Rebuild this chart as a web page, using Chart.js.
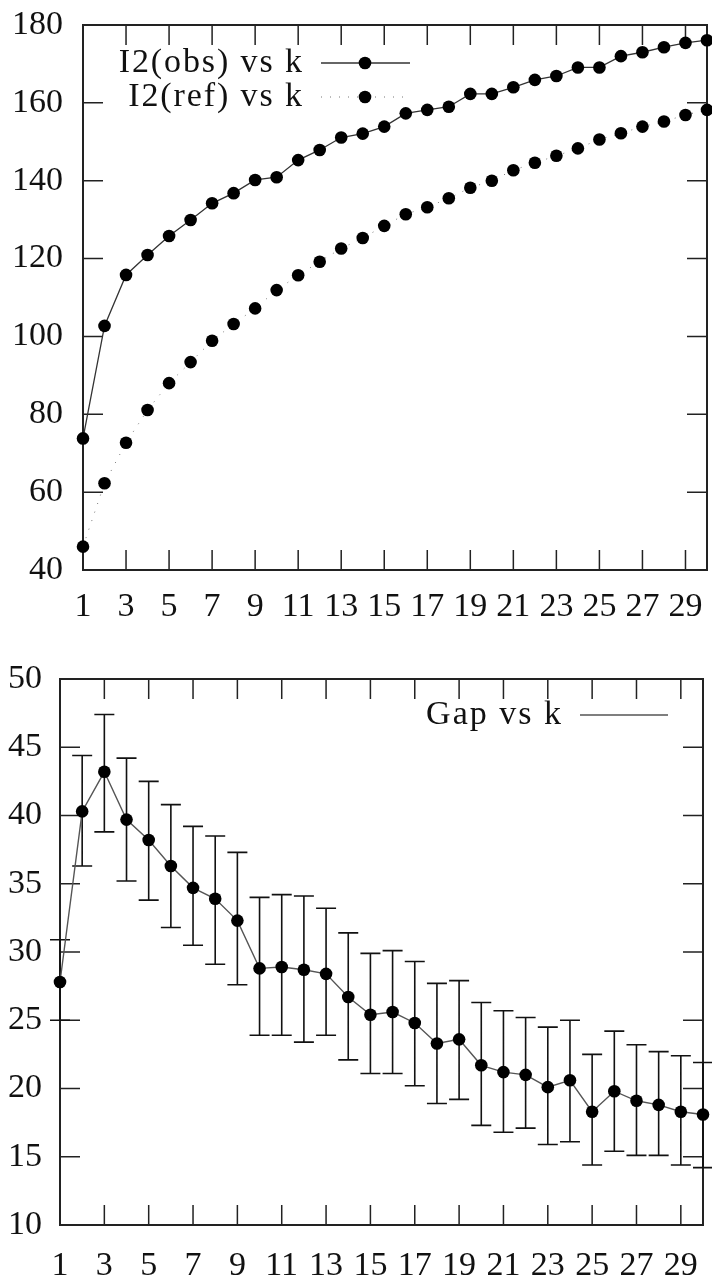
<!DOCTYPE html>
<html>
<head>
<meta charset="utf-8">
<script src="https://cdn.jsdelivr.net/npm/chart.js@4.4.1/dist/chart.umd.min.js"></script>
<style>
html, body { margin: 0; padding: 0; background: #fff; }
#wrap { position: relative; width: 712px; height: 1277px; }
#caja-i2 { position: absolute; left: 0; top: 0; width: 712px; height: 620px; }
#caja-gap { position: absolute; left: 0; top: 640px; width: 712px; height: 637px; }
</style>
</head>
<body>
<div id="wrap">
  <div id="caja-i2"><canvas id="grafica-i2"></canvas></div>
  <div id="caja-gap"><canvas id="grafica-gap"></canvas></div>
</div>
<script>
// datos
const k = [1, 2, 3, 4, 5, 6, 7, 8, 9, 10, 11, 12, 13, 14, 15, 16, 17, 18, 19, 20, 21, 22, 23, 24, 25, 26, 27, 28, 29, 30];
const i2Obs = [73.8, 102.7, 115.8, 120.9, 125.8, 129.9, 134.2, 136.8, 140.2, 140.9, 145.3, 147.9, 151.1, 152.1, 153.9,
               157.3, 158.2, 159.0, 162.3, 162.3, 164.0, 165.9, 166.9, 169.1, 169.1, 172.0, 173.0, 174.3, 175.4, 176.1];
const i2Ref = [46.0, 62.3, 72.7, 81.1, 88.0, 93.4, 98.9, 103.2, 107.2, 111.9, 115.7, 119.2, 122.6, 125.3, 128.4,
               131.4, 133.2, 135.5, 138.2, 140.0, 142.7, 144.6, 146.4, 148.3, 150.6, 152.2, 153.9, 155.2, 156.9, 158.2];
const gap = [27.8, 40.3, 43.2, 39.7, 38.2, 36.3, 34.7, 33.9, 32.3, 28.8, 28.9, 28.7, 28.4, 26.7, 25.4,
             25.6, 24.8, 23.3, 23.6, 21.7, 21.2, 21.0, 20.1, 20.6, 18.3, 19.8, 19.1, 18.8, 18.3, 18.1];
const gapAlto = [30.9, 44.4, 47.4, 44.2, 42.5, 40.8, 39.2, 38.5, 37.3, 34.0, 34.2, 34.1, 33.2, 31.4, 29.9,
                 30.1, 29.3, 27.7, 27.9, 26.3, 25.7, 25.2, 24.5, 25.0, 22.5, 24.2, 23.2, 22.7, 22.4, 21.9];
const gapBajo = [25.0, 36.3, 38.8, 35.2, 33.8, 31.8, 30.5, 29.1, 27.6, 23.9, 23.9, 23.4, 23.9, 22.1, 21.1,
                 21.1, 20.2, 18.9, 19.2, 17.3, 16.8, 17.1, 15.9, 16.1, 14.4, 15.4, 15.1, 15.1, 14.4, 14.2];
const kTicks = [1, 3, 5, 7, 9, 11, 13, 15, 17, 19, 21, 23, 25, 27, 29];
const i2Ticks = [40, 60, 80, 100, 120, 140, 160, 180];
const gapTicks = [10, 15, 20, 25, 30, 35, 40, 45, 50];

Chart.defaults.font.family = "'Liberation Serif', 'Times New Roman', serif";
Chart.defaults.font.size = 34;
Chart.defaults.color = '#111';

const puntos = (ys) => k.map((v, i) => ({ x: v, y: ys[i] }));

// marco y ticks hacia dentro (estilo gnuplot)
const marco = {
    id: 'marco',
    beforeDatasetsDraw(chart) {
        const { ctx, chartArea: a, scales } = chart;
        const largo = 20;
        ctx.save();
        ctx.strokeStyle = '#222';
        ctx.lineWidth = 1.5;
        ctx.beginPath();
        scales.x.ticks.forEach(t => {
            const px = scales.x.getPixelForValue(t.value);
            ctx.moveTo(px, a.bottom); ctx.lineTo(px, a.bottom - largo);
            ctx.moveTo(px, a.top); ctx.lineTo(px, a.top + largo);
        });
        scales.y.ticks.forEach(t => {
            const py = scales.y.getPixelForValue(t.value);
            ctx.moveTo(a.left, py); ctx.lineTo(a.left + largo, py);
            ctx.moveTo(a.right, py); ctx.lineTo(a.right - largo, py);
        });
        ctx.stroke();
        ctx.lineWidth = 2;
        ctx.strokeRect(a.left, a.top, a.right - a.left, a.bottom - a.top);
        ctx.restore();
    }
};

// leyenda dentro del area, como gnuplot
const leyenda = {
    id: 'leyenda',
    afterDraw(chart, args, opts) {
        const ctx = chart.ctx;
        ctx.save();
        ctx.font = "34px 'Liberation Serif', 'Times New Roman', serif";
        ctx.letterSpacing = opts.espacio + 'px';
        ctx.fillStyle = '#111';
        ctx.textAlign = 'left';
        ctx.textBaseline = 'middle';
        opts.items.forEach((it, n) => {
            const ds = chart.data.datasets[n];
            const ancho = ctx.measureText(ds.label).width - opts.espacio;
            ctx.fillText(ds.label, opts.textoX - ancho, it.y);
            ctx.save();
            ctx.strokeStyle = ds.borderColor;
            ctx.lineWidth = ds.borderWidth;
            ctx.setLineDash(ds.borderDash || []);
            ctx.beginPath();
            ctx.moveTo(opts.lineaX1, it.y);
            ctx.lineTo(opts.lineaX2, it.y);
            ctx.stroke();
            ctx.restore();
            if (opts.conPunto) {
                ctx.beginPath();
                ctx.fillStyle = ds.pointBackgroundColor;
                ctx.arc(opts.puntoX, it.y, ds.pointRadius, 0, Math.PI * 2);
                ctx.fill();
                ctx.fillStyle = '#111';
            }
        });
        ctx.letterSpacing = '0px';
        ctx.restore();
    }
};

// barras de error del gap
const barrasError = {
    id: 'barrasError',
    beforeDatasetsDraw(chart) {
        const { ctx, scales: { x, y } } = chart;
        ctx.save();
        ctx.strokeStyle = '#111';
        ctx.lineWidth = 1.6;
        ctx.beginPath();
        k.forEach((kv, i) => {
            const px = x.getPixelForValue(kv);
            const yb = y.getPixelForValue(gapBajo[i]);
            const ya = y.getPixelForValue(gapAlto[i]);
            ctx.moveTo(px, yb); ctx.lineTo(px, ya);
            ctx.moveTo(px - 10, yb); ctx.lineTo(px + 10, yb);
            ctx.moveTo(px - 10, ya); ctx.lineTo(px + 10, ya);
        });
        ctx.stroke();
        ctx.restore();
    }
};

function ejeX(alto, pad) {
    return {
        type: 'linear', min: 1, max: 30,
        afterBuildTicks: s => { s.ticks = kTicks.map(v => ({ value: v })); },
        afterFit: s => { s.height = alto; s.paddingLeft = 0; s.paddingRight = 0; },
        grid: { display: false, drawTicks: false },
        border: { display: false },
        ticks: { padding: pad, autoSkip: false, maxRotation: 0 }
    };
}
function ejeY(min, max, valores, ancho, pad) {
    return {
        type: 'linear', min: min, max: max,
        afterBuildTicks: s => { s.ticks = valores.map(v => ({ value: v })); },
        afterFit: s => { s.width = ancho; s.paddingTop = 0; s.paddingBottom = 0; },
        grid: { display: false, drawTicks: false },
        border: { display: false },
        ticks: { padding: pad }
    };
}

new Chart(document.getElementById('grafica-i2'), {
    type: 'line',
    data: {
        datasets: [{
            label: 'I2(obs) vs k',
            data: puntos(i2Obs),
            borderColor: '#333',
            borderWidth: 1.3,
            pointRadius: 6.3,
            pointBackgroundColor: '#000',
            pointBorderWidth: 0,
            clip: false
        }, {
            label: 'I2(ref) vs k',
            data: puntos(i2Ref),
            borderColor: '#777',
            borderWidth: 1,
            borderDash: [1, 8],
            pointRadius: 6.3,
            pointBackgroundColor: '#000',
            pointBorderWidth: 0,
            clip: false
        }]
    },
    options: {
        responsive: true,
        maintainAspectRatio: false,
        animation: false,
        layout: { autoPadding: false, padding: { top: 25, right: 5, left: 0, bottom: 0 } },
        scales: {
            x: ejeX(50, 17),
            y: ejeY(40, 180, i2Ticks, 83, 20)
        },
        plugins: {
            legend: { display: false },
            tooltip: { enabled: false },
            leyenda: {
                textoX: 302, lineaX1: 321, lineaX2: 410, puntoX: 365, conPunto: true, espacio: 1.9,
                items: [{ y: 63 }, { y: 97 }]
            }
        }
    },
    plugins: [marco, leyenda]
});

new Chart(document.getElementById('grafica-gap'), {
    type: 'line',
    data: {
        datasets: [{
            label: 'Gap vs k',
            data: puntos(gap),
            borderColor: '#555',
            borderWidth: 1.4,
            pointRadius: 6.3,
            pointBackgroundColor: '#000',
            pointBorderWidth: 0,
            clip: false
        }]
    },
    options: {
        responsive: true,
        maintainAspectRatio: false,
        animation: false,
        layout: { autoPadding: false, padding: { top: 39, right: 9, left: 0, bottom: 0 } },
        scales: {
            x: ejeX(52, 21),
            y: ejeY(10, 50, gapTicks, 60, 18)
        },
        plugins: {
            legend: { display: false },
            tooltip: { enabled: false },
            leyenda: {
                textoX: 561, lineaX1: 580, lineaX2: 668, conPunto: false, espacio: 2,
                items: [{ y: 75 }]
            }
        }
    },
    plugins: [marco, barrasError, leyenda]
});
</script>
</body>
</html>
